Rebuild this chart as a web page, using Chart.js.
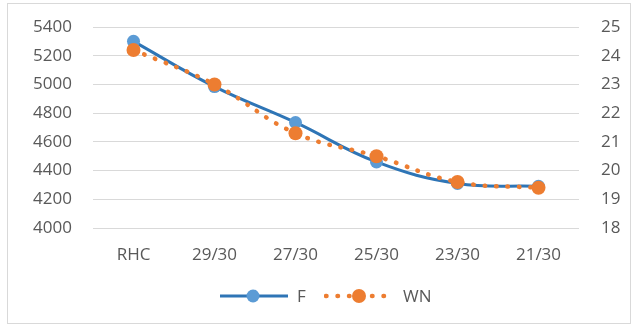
<!DOCTYPE html>
<html>
<head>
  <meta charset="UTF-8">
  <title>F / WN</title>
  <style>
    body {
      margin: 0;
      background: #fff;
      font-family: "Open Sans", Arial, sans-serif;
    }
    .wrap {
      position: relative;
      width: 636px;
      height: 326px;
    }
    .frame {
      position: absolute;
      left: 7px;
      top: 3px;
      width: 622px;
      height: 319px;
      border: 1.5px solid #d9d9d9;
      pointer-events: none;
    }
    .legend {
      position: absolute;
      top: 284px;
      left: 0;
      width: 636px;
      height: 24px;
      font-size: 17px;
      color: #595959;
    }
    .legend span, .legend svg {
      position: absolute;
    }
  </style>
</head>
<body>
  <div class="wrap">
    <canvas id="chart" width="636" height="326"></canvas>
    <div class="frame"></div>

    <!-- legend -->
    <div class="legend">
      <svg style="left:220px; top:2px" width="70" height="20">
        <line x1="0" y1="10" x2="68" y2="10" stroke="#2e75b6" stroke-width="3"/>
        <circle cx="33" cy="10" r="6.5" fill="#5b9bd5"/>
      </svg>
      <span id="lgF" style="left:297px; top:0px">F</span>
      <svg style="left:324px; top:2px" width="74" height="20">
        <line x1="2" y1="10" x2="70" y2="10" stroke="#ed7d31" stroke-width="4.5"
              stroke-dasharray="0.5 11" stroke-linecap="round"/>
        <circle cx="35" cy="10" r="7" fill="#ed7d31"/>
      </svg>
      <span id="lgWN" style="left:403px; top:0px">WN</span>
    </div>
  </div>

  <script src="https://cdn.jsdelivr.net/npm/chart.js"></script>
  <script>
    // data
    const categories = ["RHC", "29/30", "27/30", "25/30", "23/30", "21/30"];
    const fValues = [5300, 4985, 4735, 4460, 4310, 4290];
    const wnValues = [24.2, 23.0, 21.3, 20.5, 19.6, 19.4];
    const leftTicks = [4000, 5400, 200];
    const rightTicks = [18, 25, 1];

    const labelColor = "#595959";
    const gridColor = "#d9d9d9";
    const tickFont = { family: "'Open Sans', Arial, sans-serif", size: 17 };

    // fixed axis widths, and drop the extra label room chart.js reserves on top
    function fitY(width) {
      return s => {
        s.width = width;
        s.paddingTop = 0;
        s.paddingBottom = 0;
      };
    }

    const ctx = document.getElementById("chart").getContext("2d");
    new Chart(ctx, {
      type: "line",
      data: {
        labels: categories,
        datasets: [
          {
            label: "F",
            data: fValues,
            yAxisID: "y",
            borderColor: "#2e75b6",
            borderWidth: 3,
            backgroundColor: "#5b9bd5",
            pointBackgroundColor: "#5b9bd5",
            pointBorderColor: "#5b9bd5",
            pointRadius: 6.5,
            pointBorderWidth: 0,
            tension: 0.4,
            order: 2
          },
          {
            label: "WN",
            data: wnValues,
            yAxisID: "y1",
            borderColor: "#ed7d31",
            borderWidth: 4.5,
            borderDash: [0.5, 11],
            borderCapStyle: "round",
            backgroundColor: "#ed7d31",
            pointBackgroundColor: "#ed7d31",
            pointBorderColor: "#ed7d31",
            pointRadius: 7,
            pointBorderWidth: 0,
            tension: 0.4,
            order: 1
          }
        ]
      },
      options: {
        responsive: false,
        animation: false,
        layout: { padding: { top: 27, left: 0, right: 0, bottom: 0 } },
        plugins: { legend: { display: false }, tooltip: { enabled: false } },
        scales: {
          x: {
            offset: true,
            grid: { display: false },
            border: { display: false },
            ticks: { color: labelColor, font: tickFont, padding: 9, maxRotation: 0 },
            afterFit: s => { s.height = 98; }
          },
          y: {
            position: "left",
            min: leftTicks[0],
            max: leftTicks[1],
            grid: { color: gridColor, lineWidth: 1, drawTicks: false },
            border: { display: false },
            ticks: {
              stepSize: leftTicks[2], color: labelColor, font: tickFont, padding: 21,
              callback: v => String(v)
            },
            afterFit: fitY(93)
          },
          y1: {
            position: "right",
            min: rightTicks[0],
            max: rightTicks[1],
            grid: { display: false, drawTicks: false },
            border: { display: false },
            ticks: {
              stepSize: rightTicks[2], color: labelColor, font: tickFont, padding: 22,
              callback: v => String(v)
            },
            afterFit: fitY(57)
          }
        }
      }
    });
  </script>
</body>
</html>
